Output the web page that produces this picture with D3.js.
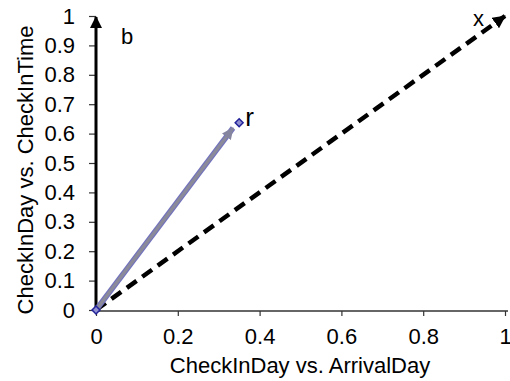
<!DOCTYPE html>
<html><head><meta charset="utf-8">
<script src="https://cdn.jsdelivr.net/npm/d3@7"></script>
<style>body{margin:0;background:#fff}svg{display:block;font-family:"Liberation Sans",Arial,sans-serif}</style>
</head><body>
<svg id="c" width="510" height="381"></svg>
<script>
const xTicks = [0, 0.2, 0.4, 0.6, 0.8, 1];
const xTickLabels = ["0", "0.2", "0.4", "0.6", "0.8", "1"];
const yTicks = [0, 0.1, 0.2, 0.3, 0.4, 0.5, 0.6, 0.7, 0.8, 0.9, 1];
const yTickLabels = ["0", "0.1", "0.2", "0.3", "0.4", "0.5", "0.6", "0.7", "0.8", "0.9", "1"];
const vectorX = [[0, 0], [1, 1]];          // dashed reference vector "x"
const vectorR = [[0, 0], [0.335, 0.619]];  // gray vector to "r"
const pointR = [[0, 0], [0.35, 0.637]];    // diamond markers
const labels = [
  {text: "b", x: 0.076, y: 0.905},
  {text: "x", x: 0.935, y: 0.965},
  {text: "r", x: 0.365, y: 0.625}
];
const xTitle = "CheckInDay vs. ArrivalDay";
const yTitle = "CheckInDay vs. CheckInTime";

const svg = d3.select("#c");
const x = d3.scaleLinear().domain([0, 1]).range([96, 505]);
const y = d3.scaleLinear().domain([0, 1]).range([310, 16]);

const defs = svg.append("defs");
function arrow(id, color, w, h) {
  defs.append("marker").attr("id", id).attr("markerUnits", "userSpaceOnUse")
    .attr("viewBox", `0 ${-h/2} ${w} ${h}`).attr("refX", w - 1).attr("refY", 0)
    .attr("markerWidth", w).attr("markerHeight", h).attr("orient", "auto")
    .append("path").attr("d", `M0,${-h/2}L${w},0L0,${h/2}Z`).attr("fill", color);
}
arrow("aBlack", "#000", 12, 12);
arrow("aDash", "#000", 13, 13);
arrow("aGray", "#85859f", 12, 11);

// X axis
const gx = svg.append("g").attr("transform", `translate(0,${y(0) + 1})`)
  .call(d3.axisBottom(x).tickValues(xTicks).tickFormat((d, i) => xTickLabels[i]).tickSize(5).tickPadding(12));
gx.select(".domain").remove();
gx.selectAll(".tick line").attr("stroke", "#333").attr("stroke-width", 1.2);
gx.selectAll("text").attr("font-size", 22).attr("fill", "#000");
gx.append("line").attr("x1", 93).attr("x2", 508).attr("y1", 0).attr("y2", 0)
  .attr("stroke", "#333").attr("stroke-width", 1.5);

// Y axis
const gy = svg.append("g").attr("transform", `translate(${x(0)},0)`)
  .call(d3.axisLeft(y).tickValues(yTicks).tickFormat((d, i) => yTickLabels[i]).tickSize(7).tickPadding(14));
gy.select(".domain").remove();
gy.selectAll(".tick line").attr("stroke", "#333").attr("stroke-width", 1.2);
gy.selectAll("text").attr("font-size", 22).attr("fill", "#000");
gy.append("line").attr("x1", 0).attr("x2", 0).attr("y1", y(0) + 1).attr("y2", y(1) + 1)
  .attr("stroke", "#000").attr("stroke-width", 3).attr("marker-end", "url(#aBlack)");

const line = d3.line().x(d => x(d[0])).y(d => y(d[1]));

// dashed vector
svg.append("path").datum(vectorX).attr("d", line).attr("fill", "none")
  .attr("stroke", "#000").attr("stroke-width", 4.5).attr("stroke-dasharray", "12,7")
  .attr("marker-end", "url(#aDash)");

// gray vector
svg.append("path").datum(vectorR).attr("d", line).attr("fill", "none")
  .attr("stroke", "#7070c0").attr("stroke-width", 5.5);
svg.append("path").datum(vectorR).attr("d", line).attr("fill", "none")
  .attr("stroke", "#8a8a9a").attr("stroke-width", 3.5).attr("marker-end", "url(#aGray)");

// markers
svg.selectAll("path.pt").data(pointR).join("path").attr("class", "pt")
  .attr("d", d3.symbol().type(d3.symbolDiamond2).size(40))
  .attr("transform", d => `translate(${x(d[0])},${y(d[1])})`)
  .attr("fill", "#9090d0").attr("stroke", "#22229a").attr("stroke-width", 1.5);

// labels
svg.selectAll("text.lab").data(labels).join("text").attr("class", "lab")
  .attr("x", d => x(d.x)).attr("y", d => y(d.y))
  .attr("font-size", d => d.text === "r" ? 26 : 22).attr("fill", "#000")
  .attr("text-anchor", d => d.text === "r" ? "start" : "middle")
  .text(d => d.text);

// titles
svg.append("text").attr("x", 300).attr("y", 373).attr("text-anchor", "middle")
  .attr("font-size", 22).attr("fill", "#000").text(xTitle);
svg.append("text").attr("transform", "translate(33,170) rotate(-90)").attr("text-anchor", "middle")
  .attr("font-size", 22).attr("fill", "#000").text(yTitle);
</script>
</body></html>
